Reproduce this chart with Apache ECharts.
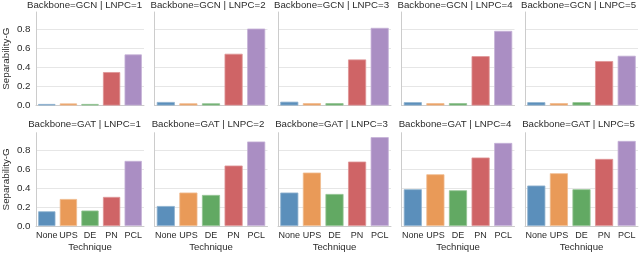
<!DOCTYPE html>
<html>
<head>
<meta charset="utf-8">
<script src="https://cdn.jsdelivr.net/npm/echarts@6/dist/echarts.min.js"></script>
<style>
html,body{margin:0;padding:0;background:#fff;}
#chart{width:640px;height:253px;}
</style>
</head>
<body>
<div id="chart"></div>
<script>
const categories = ['None', 'UPS', 'DE', 'PN', 'PCL'];
const backbones = ['GCN', 'GAT'];
const lnpcValues = [1, 2, 3, 4, 5];
const yTicks = [0.0, 0.2, 0.4, 0.6, 0.8];

const gcn1 = [0.016, 0.022, 0.016, 0.352, 0.538];
const gcn2 = [0.037, 0.023, 0.023, 0.545, 0.810];
const gcn3 = [0.040, 0.025, 0.025, 0.485, 0.818];
const gcn4 = [0.035, 0.025, 0.025, 0.520, 0.786];
const gcn5 = [0.035, 0.025, 0.035, 0.468, 0.524];
const gat1 = [0.155, 0.285, 0.163, 0.307, 0.687];
const gat2 = [0.211, 0.353, 0.328, 0.638, 0.892];
const gat3 = [0.353, 0.564, 0.338, 0.680, 0.938];
const gat4 = [0.388, 0.546, 0.377, 0.723, 0.877];
const gat5 = [0.427, 0.557, 0.388, 0.708, 0.898];

const gcnRows = [gcn1, gcn2, gcn3, gcn4, gcn5];
const gatRows = [gat1, gat2, gat3, gat4, gat5];
const allRows = [gcnRows, gatRows];

const colors = ['#5b8fbb', '#e99a58', '#62a963', '#cf6466', '#aa8ec3'];
const borders = ['#8fb2cf', '#f0bb8f', '#93c493', '#de9495', '#c5b1d7'];

const FONT = 'Liberation Sans, Arial, sans-serif';
const TXT = '#2b2b2b';
const lefts = [31, 154.5, 278, 401.5, 525];
const panelW = 113;
const tops = [12, 132.7];
const panelH = [93.5, 94];
const yMax = 0.985;

const grids = [], xAxes = [], yAxes = [], series = [], titles = [];
let idx = 0;
for (let r = 0; r < 2; r++) {
  for (let c = 0; c < 5; c++) {
    grids.push({left: lefts[c], top: tops[r], width: panelW, height: panelH[r], containLabel: false});
    xAxes.push({
      type: 'category', gridIndex: idx, data: categories,
      axisLine: {show: true, lineStyle: {color: '#cccccc', width: 1}},
      axisTick: {show: false},
      axisLabel: {show: r === 1, fontFamily: FONT, fontSize: 9.0, color: TXT, margin: 5, interval: 0},
      name: (r === 1) ? 'Technique' : '',
      nameLocation: 'middle', nameGap: 16,
      nameTextStyle: {fontFamily: FONT, fontSize: 9.6, color: TXT},
      splitLine: {show: false}
    });
    yAxes.push({
      type: 'value', gridIndex: idx, min: 0, max: yMax, interval: 0.2,
      axisLine: {show: true, lineStyle: {color: '#cccccc', width: 1}},
      axisTick: {show: false},
      axisLabel: {show: c === 0, fontFamily: FONT, fontSize: 9.8, color: TXT, margin: 5.5,
        showMaxLabel: false,
        formatter: v => (yTicks.some(t => Math.abs(t - v) < 1e-6) ? v.toFixed(1) : '')},
      splitLine: {show: true, showMaxLine: false, lineStyle: {color: '#e6e6e6', width: 1}},
      name: (c === 0) ? 'Separability-G' : '',
      nameLocation: 'middle', nameGap: 25, nameRotate: 90,
      nameTextStyle: {fontFamily: FONT, fontSize: 9.8, color: TXT}
    });
    const vals = allRows[r][c];
    series.push({
      type: 'bar', xAxisIndex: idx, yAxisIndex: idx,
      barWidth: '80%',
      data: vals.map((v, i) => ({value: v, itemStyle: {color: colors[i], borderColor: borders[i], borderWidth: 0.8}})),
      silent: true, animation: false
    });
    titles.push({
      text: 'Backbone=' + backbones[r] + ' | LNPC=' + lnpcValues[c],
      left: lefts[c] + panelW / 2 - 3, top: r === 0 ? 0 : 119.5,
      textAlign: 'center', padding: 0,
      textStyle: {fontFamily: FONT, fontSize: 9.7, fontWeight: 'normal', color: TXT}
    });
    idx++;
  }
}

const chart = echarts.init(document.getElementById('chart'), null, {renderer: 'canvas'});
chart.setOption({
  animation: false,
  backgroundColor: '#ffffff',
  title: titles,
  grid: grids,
  xAxis: xAxes,
  yAxis: yAxes,
  series: series
});
</script>
</body>
</html>
